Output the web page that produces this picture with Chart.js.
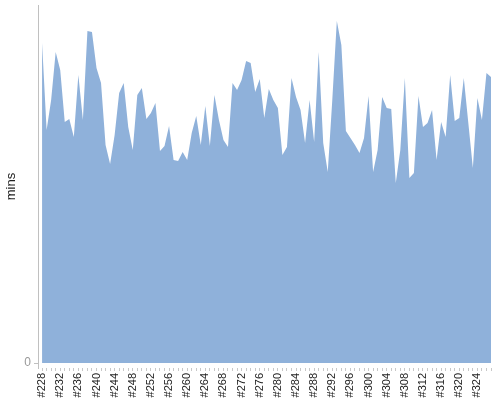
<!DOCTYPE html>
<html>
<head>
<meta charset="utf-8">
<script src="https://cdn.jsdelivr.net/npm/chart.js@4"></script>
<style>
    html, body { margin: 0; padding: 0; background: #ffffff; }
    #wrap { width: 500px; height: 400px; }
</style>
</head>
<body>
<div id="wrap"><canvas id="minsChart"></canvas></div>
<script>
// Run numbers on the x axis
const runNumbers = [
    228, 229, 230, 231, 232, 233, 234, 235, 236, 237,
    238, 239, 240, 241, 242, 243, 244, 245, 246, 247,
    248, 249, 250, 251, 252, 253, 254, 255, 256, 257,
    258, 259, 260, 261, 262, 263, 264, 265, 266, 267,
    268, 269, 270, 271, 272, 273, 274, 275, 276, 277,
    278, 279, 280, 281, 282, 283, 284, 285, 286, 287,
    288, 289, 290, 291, 292, 293, 294, 295, 296, 297,
    298, 299, 300, 301, 302, 303, 304, 305, 306, 307,
    308, 309, 310, 311, 312, 313, 314, 315, 316, 317,
    318, 319, 320, 321, 322, 323, 324, 325, 326, 327
];

// Minutes per run
const minsValues = [
    32.0, 23.3, 26.3, 31.1, 29.3, 24.1, 24.4, 22.6, 28.8, 24.3,
    33.2, 33.1, 29.5, 28.0, 21.8, 19.9, 22.8, 27.0, 28.0, 23.6,
    21.3, 26.8, 27.5, 24.4, 25.0, 26.0, 21.2, 21.7, 23.7, 20.3,
    20.2, 21.1, 20.3, 23.0, 24.7, 21.8, 25.7, 21.7, 26.8, 24.3,
    22.3, 21.6, 28.0, 27.3, 28.3, 30.2, 30.0, 27.1, 28.4, 24.5,
    27.4, 26.3, 25.5, 20.8, 21.6, 28.5, 26.6, 25.3, 22.0, 26.3,
    22.1, 31.1, 22.0, 19.1, 26.3, 34.2, 31.8, 23.2, 22.5, 21.8,
    21.0, 22.5, 26.7, 19.1, 21.3, 26.6, 25.5, 25.4, 18.0, 21.3,
    28.5, 18.5, 19.0, 26.7, 23.6, 24.0, 25.3, 20.3, 24.1, 22.6,
    28.8, 24.2, 24.5, 28.5, 24.0, 19.5, 26.5, 24.3, 29.0, 28.6
];

// Labelled ticks on the x axis
const tickLabels = [
    '#228', '#232', '#236', '#240', '#244', '#248', '#252', '#256', '#260',
    '#264', '#268', '#272', '#276', '#280', '#284', '#288', '#292', '#296',
    '#300', '#304', '#308', '#312', '#316', '#320', '#324'
];

const yTicks = [0];

function initMinsChart() {
    const ctx = document.getElementById('minsChart');
    const points = runNumbers.map((run, i) => ({ x: run, y: minsValues[i] }));

    return new Chart(ctx, {
        type: 'line',
        data: {
            datasets: [{
                label: 'mins',
                data: points,
                backgroundColor: 'rgb(143, 177, 218)',
                borderColor: 'rgb(143, 177, 218)',
                borderWidth: 0,
                pointRadius: 0,
                fill: 'origin',
                tension: 0
            }]
        },
        options: {
            responsive: true,
            maintainAspectRatio: false,
            animation: false,
            layout: {
                padding: { top: 5, right: 9, left: 0, bottom: 0 }
            },
            plugins: {
                legend: { display: false },
                tooltip: { enabled: false }
            },
            scales: {
                x: {
                    type: 'linear',
                    min: 227.1,
                    max: 327,
                    afterBuildTicks: function(axis) {
                        axis.ticks = runNumbers.map(v => ({ value: v }));
                    },
                    afterFit: function(scale) {
                        // fixed height, no extra side padding from rotated labels
                        scale.height = 32;
                        scale.paddingLeft = 0;
                        scale.paddingRight = 0;
                    },
                    border: { display: false },
                    grid: {
                        drawOnChartArea: false,
                        drawTicks: true,
                        tickLength: 3,
                        color: '#c8c8c8'
                    },
                    ticks: {
                        autoSkip: false,
                        minRotation: 90,
                        maxRotation: 90,
                        padding: 2,
                        color: '#222222',
                        font: { family: 'Liberation Sans', size: 11 },
                        callback: function(value) {
                            const label = '#' + value;
                            return tickLabels.includes(label) ? label : '';
                        }
                    }
                },
                y: {
                    min: -0.5,
                    max: 35.8,
                    afterBuildTicks: function(axis) {
                        axis.ticks = yTicks.map(v => ({ value: v }));
                    },
                    afterFit: function(scale) {
                        scale.width = 38;
                        scale.paddingTop = 0;
                        scale.paddingBottom = 0;
                    },
                    border: { display: true, color: '#c0c0c0', width: 1 },
                    grid: {
                        drawOnChartArea: false,
                        tickLength: 4,
                        color: '#c0c0c0'
                    },
                    title: {
                        display: true,
                        text: 'mins',
                        color: '#222222',
                        font: { family: 'Liberation Sans', size: 13 },
                        padding: { top: 4, bottom: 0 }
                    },
                    ticks: {
                        color: '#999999',
                        padding: 3,
                        font: { family: 'Liberation Sans', size: 12 }
                    }
                }
            }
        }
    });
}

initMinsChart();
</script>
</body>
</html>
